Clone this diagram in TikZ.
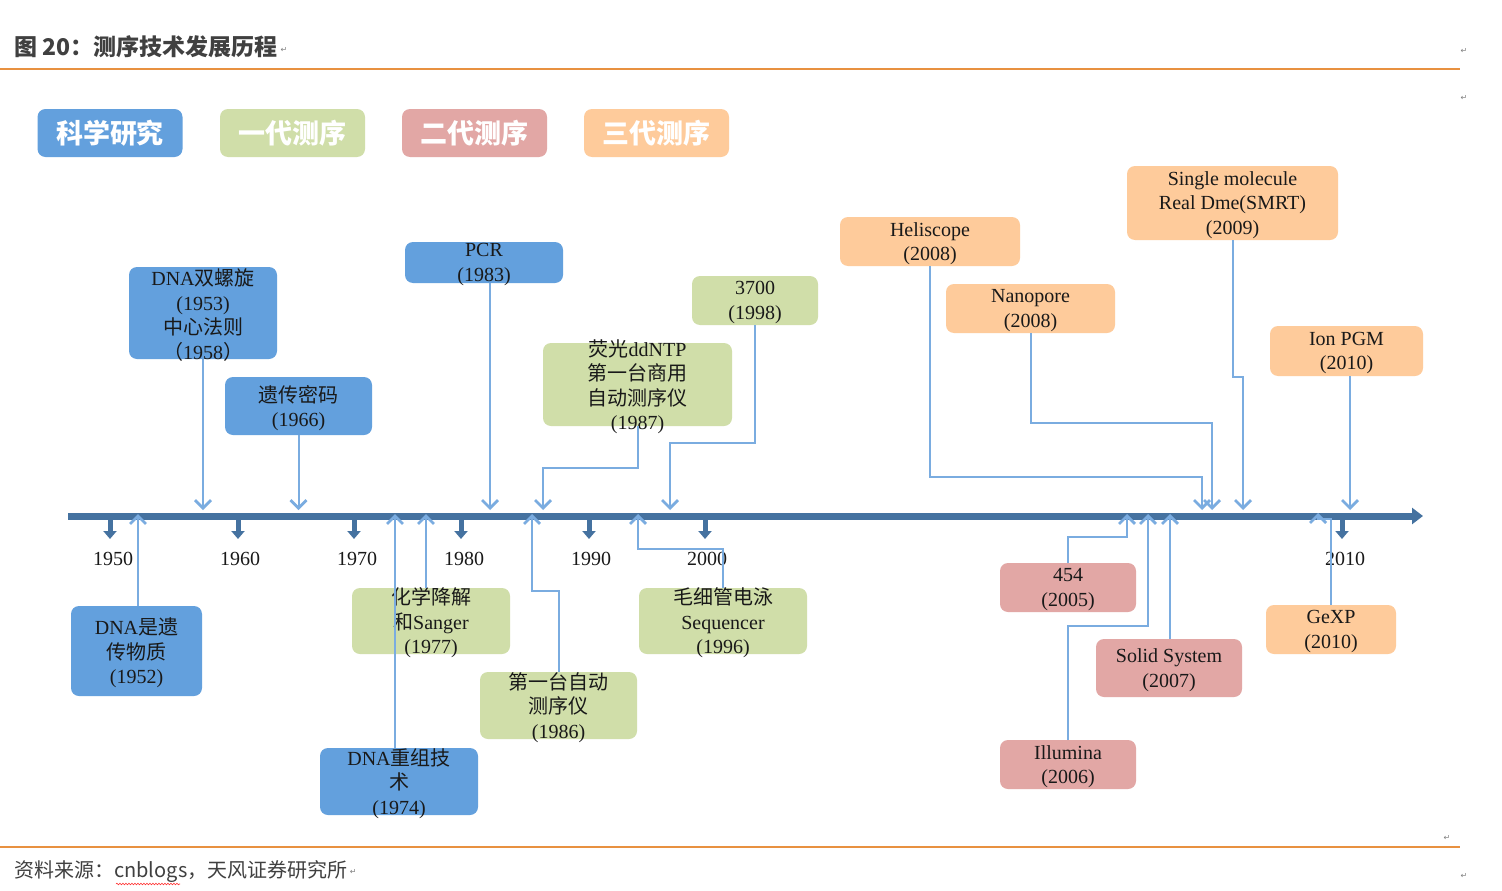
\documentclass[tikz,border=0pt]{standalone}
\usepackage{fontspec}
\setmainfont{Liberation Serif}
\newfontfamily\cjk{Noto Sans CJK SC}
\newfontfamily\symf{DejaVu Sans}
\usetikzlibrary{arrows.meta,decorations.pathmorphing}
\definecolor{sci}{RGB}{99,160,221}
\definecolor{gena}{RGB}{208,222,169}
\definecolor{genb}{RGB}{226,167,165}
\definecolor{genc}{RGB}{254,203,155}
\definecolor{axisc}{RGB}{69,114,160}
\definecolor{conc}{RGB}{122,172,224}
\definecolor{txtc}{RGB}{25,25,25}
\definecolor{rulec}{RGB}{232,145,64}
\definecolor{headc}{RGB}{64,64,64}
\begin{document}
\begin{tikzpicture}[x=1pt,y=-1pt,
 bx/.style={rounded corners=8pt, inner sep=0pt, outer sep=0pt},
 txt/.style={text=txtc, align=center, inner sep=0pt, font=\fontsize{20}{24.5}\selectfont},
 yr/.style={text=txtc, inner sep=0pt, font=\fontsize{20}{24}\selectfont},
 leg/.style={bx, text=white, font=\cjk\bfseries\fontsize{27}{30}\selectfont, minimum width=145pt, minimum height=48pt},
 con/.style={draw=conc, line width=2pt, -{Straight Barb[length=8pt,width=16pt,line width=2.8pt]}},
 tickarrow/.style={draw=axisc, line width=5pt, -{Triangle[length=8pt,width=13pt]}},
 pm/.style={text=gray, inner sep=0pt, font=\symf\fontsize{8}{8}\selectfont}
]
\useasboundingbox (0,0) rectangle (1502,891);
\fill[white] (0,0) rectangle (1502,891);

% header and footer
\node[anchor=west, inner sep=0pt, text=headc, font=\cjk\bfseries\fontsize{23}{23}\selectfont] (title) at (14,47) {图 20：测序技术发展历程};
\node[pm] (pm1) at (284,50) {↵};
\node[pm] (pm2) at (1464,51) {↵};
\node[pm] (pm3) at (1464,98) {↵};
\node[pm] (pm4) at (1447,838) {↵};
\node[pm] (pm5) at (1464,876) {↵};
\draw[rulec, line width=1.2pt] (0,69) -- (1460,69);
\draw[rulec, line width=1.2pt] (0,847) -- (1460,847);
\node[anchor=west, inner sep=0pt, text=headc, font=\cjk\fontsize{20}{21}\selectfont] (foot) at (14,872) {资料来源：cnblogs，天风证券研究所};
\node[pm, anchor=west] (pm6) at ([xshift=2pt]foot.east) {↵};
\draw[red!80, line width=0.6pt, decorate, decoration={snake,amplitude=0.8pt,segment length=3pt}] (116,884) -- (180,884);

% legend
\node[leg, fill=sci] (l1) at (110,133) {科学研究};
\node[leg, fill=gena] (l2) at (292.5,133) {一代测序};
\node[leg, fill=genb] (l3) at (474.5,133) {二代测序};
\node[leg, fill=genc] (l4) at (656.5,133) {三代测序};

% boxes above the axis
\node[bx, fill=sci, minimum width=148pt, minimum height=92pt] (dna) at (203,313) {};
\node[txt] (dnat) at ([yshift=-2pt]dna.center) {DNA{\cjk 双螺旋}\\(1953)\\{\cjk 中心法则}\\{\cjk （}1958{\cjk ）}};
\node[bx, fill=sci, minimum width=147pt, minimum height=58pt] (gen) at (298.5,406) {};
\node[txt] (gent) at ([yshift=-2pt]gen.center) {{\cjk 遗传密码}\\(1966)};
\node[bx, fill=sci, minimum width=158pt, minimum height=41pt] (pcr) at (484,262.5) {};
\node[txt] (pcrt) at ([yshift=-2pt]pcr.center) {PCR\\(1983)};
\node[bx, fill=gena, minimum width=189pt, minimum height=83pt] (fl) at (637.5,384.5) {};
\node[txt] (flt) at ([yshift=-2pt]fl.center) {{\cjk 荧光}ddNTP\\{\cjk 第一台商用}\\{\cjk 自动测序仪}\\(1987)};
\node[bx, fill=gena, minimum width=126pt, minimum height=49pt] (sts) at (755,300.5) {};
\node[txt] (stst) at ([yshift=-2pt]sts.center) {3700\\(1998)};
\node[bx, fill=genc, minimum width=180pt, minimum height=49pt] (heli) at (930,241.5) {};
\node[txt] (helit) at ([yshift=-2pt]heli.center) {Heliscope\\(2008)};
\node[bx, fill=genc, minimum width=169pt, minimum height=49pt] (nano) at (1030.5,308.5) {};
\node[txt] (nanot) at ([yshift=-2pt]nano.center) {Nanopore\\(2008)};
\node[bx, fill=genc, minimum width=211pt, minimum height=74pt] (smrt) at (1232.5,203) {};
\node[txt] (smrtt) at ([yshift=-2pt]smrt.center) {Single molecule\\Real Dme(SMRT)\\(2009)};
\node[bx, fill=genc, minimum width=153pt, minimum height=50pt] (ion) at (1346.5,351) {};
\node[txt] (iont) at ([yshift=-2pt]ion.center) {Ion PGM\\(2010)};

% boxes below the axis
\node[bx, fill=sci, minimum width=131pt, minimum height=90pt] (dnag) at (136.5,651) {};
\node[txt] (dnagt) at ([yshift=-2pt]dnag.center) {DNA{\cjk 是遗}\\{\cjk 传物质}\\(1952)};
\node[bx, fill=gena, minimum width=158pt, minimum height=66pt] (chem) at (431,621) {};
\node[txt] (chemt) at ([yshift=-2pt]chem.center) {{\cjk 化学降解}\\{\cjk 和}Sanger\\(1977)};
\node[bx, fill=sci, minimum width=158pt, minimum height=67pt] (rec) at (399,781.5) {};
\node[txt] (rect) at ([yshift=-2pt]rec.center) {DNA{\cjk 重组技}\\{\cjk 术}\\(1974)};
\node[bx, fill=gena, minimum width=157pt, minimum height=67pt] (auto) at (558.5,705.5) {};
\node[txt] (autot) at ([yshift=-2pt]auto.center) {{\cjk 第一台自动}\\{\cjk 测序仪}\\(1986)};
\node[bx, fill=gena, minimum width=168pt, minimum height=66pt] (cap) at (723,621) {};
\node[txt] (capt) at ([yshift=-2pt]cap.center) {{\cjk 毛细管电泳}\\Sequencer\\(1996)};
\node[bx, fill=genb, minimum width=136pt, minimum height=49pt] (fff) at (1068,587.5) {};
\node[txt] (ffft) at ([yshift=-2pt]fff.center) {454\\(2005)};
\node[bx, fill=genb, minimum width=136pt, minimum height=49pt] (illu) at (1068,764.5) {};
\node[txt] (illut) at ([yshift=-2pt]illu.center) {Illumina\\(2006)};
\node[bx, fill=genb, minimum width=146pt, minimum height=58pt] (solid) at (1169,668) {};
\node[txt] (solidt) at ([yshift=-2pt]solid.center) {Solid System\\(2007)};
\node[bx, fill=genc, minimum width=130pt, minimum height=49pt] (gexp) at (1331,629.5) {};
\node[txt] (gexpt) at ([yshift=-2pt]gexp.center) {GeXP\\(2010)};

% axis
\coordinate (ax0) at (68,516);
\coordinate (ax1) at (1423,516);
\draw[axisc, line width=7pt, -{Triangle[length=11pt,width=16pt]}] (ax0) -- (ax1);
\foreach \x in {110,238,354,461,589,705,1342} {
  \draw[tickarrow] (\x,518) -- (\x,539);
}
\node[yr] (y1950) at (113,559) {1950};
\node[yr] (y1960) at (240,559) {1960};
\node[yr] (y1970) at (357,559) {1970};
\node[yr] (y1980) at (464,559) {1980};
\node[yr] (y1990) at (591,559) {1990};
\node[yr] (y2000) at (707,559) {2000};
\node[yr] (y2010) at (1345,559) {2010};

% arrow tip coordinates
\coordinate (d1) at (203,510);
\coordinate (d2) at (298.5,510);
\coordinate (d3) at (490,510);
\coordinate (d4) at (543,510);
\coordinate (d5) at (670,510);
\coordinate (d6) at (1202,510);
\coordinate (d7) at (1212,510);
\coordinate (d8) at (1243,510);
\coordinate (d9) at (1350,510);
\coordinate (u1) at (138,514);
\coordinate (u2) at (395,514);
\coordinate (u3) at (426,514);
\coordinate (u4) at (532,514);
\coordinate (u5) at (638,514);
\coordinate (u6) at (1127,514);
\coordinate (u7) at (1148,514);
\coordinate (u8) at (1170,514);
\coordinate (u9) at (1318,513);

% connectors
\draw[con] (dna.south) -- (d1);
\draw[con] (gen.south) -- (d2);
\draw[con] (pcr.south -| d3) -- (d3);
\draw[con] (fl.south) -- ++(0,42) -| (d4);
\draw[con] (sts.south) -- ++(0,118) -| (d5);
\draw[con] (heli.south) -- ++(0,211) -| (d6);
\draw[con] (nano.south) -- ++(0,90) -| (d7);
\draw[con] (smrt.south) -- ++(0,137) -| (d8);
\draw[con] (ion.south -| d9) -- (d9);
\draw[con] (dnag.north -| u1) -- (u1);
\draw[con] (rec.north -| u2) -- (u2);
\draw[con] (chem.north -| u3) -- (u3);
\draw[con] (auto.north) -- ++(0,-81) -| (u4);
\draw[con] (cap.north) -- ++(0,-39) -| (u5);
\draw[con] (fff.north) -- ++(0,-26) -| (u6);
\draw[con] (illu.north) -- ++(0,-114) -| (u7);
\draw[con] (solid.north -| u8) -- (u8);
\draw[con] (gexp.north) -- ++(0,-86) -| (u9);
\end{tikzpicture}
\end{document}
